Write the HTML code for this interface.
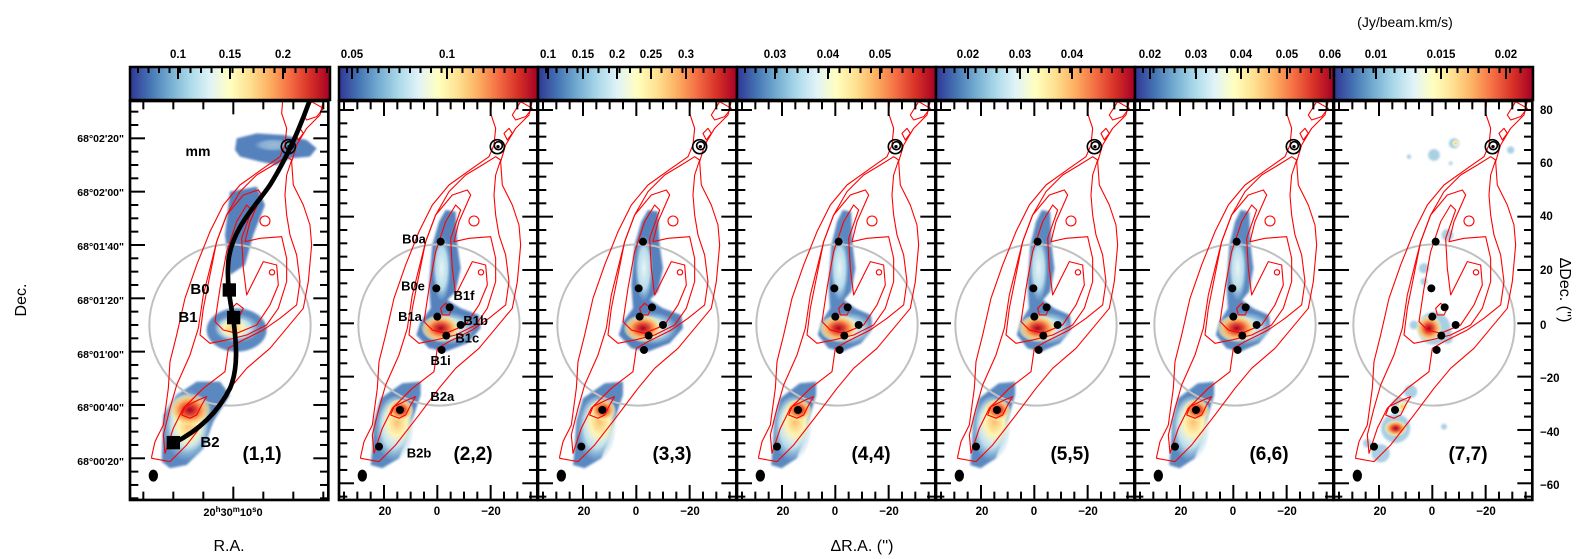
<!DOCTYPE html>
<html><head><meta charset="utf-8">
<style>
html,body{margin:0;padding:0;background:#fff;}
svg{display:block;font-family:"Liberation Sans",sans-serif;}
</style></head>
<body>
<svg id="s" width="1580" height="559" viewBox="0 0 1580 559" xmlns="http://www.w3.org/2000/svg">
<defs>
<linearGradient id="cm" x1="0" x2="1" y1="0" y2="0">
<stop offset="0" stop-color="#313695"/><stop offset="0.1" stop-color="#4575b4"/>
<stop offset="0.2" stop-color="#74add1"/><stop offset="0.3" stop-color="#abd9e9"/>
<stop offset="0.4" stop-color="#e0f3f8"/><stop offset="0.5" stop-color="#ffffbf"/>
<stop offset="0.6" stop-color="#fee090"/><stop offset="0.7" stop-color="#fdae61"/>
<stop offset="0.8" stop-color="#f46d43"/><stop offset="0.9" stop-color="#d73027"/>
<stop offset="1" stop-color="#a50026"/>
</linearGradient>
<radialGradient id="hot"><stop offset="0" stop-color="#a50026"/><stop offset="0.3" stop-color="#e0452f"/><stop offset="0.6" stop-color="#fdae61"/><stop offset="0.85" stop-color="#fee8a0" stop-opacity="0.6"/><stop offset="1" stop-color="#ffffbf" stop-opacity="0"/></radialGradient>
<radialGradient id="warm"><stop offset="0" stop-color="#fdc070"/><stop offset="0.5" stop-color="#fff3b0"/><stop offset="1" stop-color="#e0f3f8" stop-opacity="0"/></radialGradient>
<radialGradient id="light"><stop offset="0" stop-color="#e6f4f6"/><stop offset="0.6" stop-color="#b9dcea"/><stop offset="1" stop-color="#9cc8e0" stop-opacity="0"/></radialGradient>
<filter id="bl" x="-20%" y="-20%" width="140%" height="140%"><feGaussianBlur stdDeviation="3"/></filter>
</defs>
<g id="root"></g>
</svg>
<script>
(function(){
var out=[];
function P(a){return a.map(function(p){return p[0]+','+p[1];}).join(' ');}
var C1=[[65,1085],[75,1040],[100,990],[115,880],[120,800],[140,720],[165,610],[200,510],[240,410],[280,330],[330,270],[400,220],[450,185],[465,150],[470,100],[455,55],[458,18],[580,18],[570,60],[530,100],[500,150],[485,200],[490,270],[520,330],[540,390],[545,450],[535,560],[520,640],[470,700],[420,760],[350,820],[300,880],[240,960],[170,1050],[120,1100],[65,1090]];
var C2=[[105,1075],[130,1000],[160,940],[220,880],[285,830],[295,760],[330,740],[400,705],[450,670],[500,630],[510,560],[500,480],[480,420],[470,360],[465,300],[470,240],[485,195],[470,185],[430,210],[380,240],[330,290],[290,360],[260,440],[240,520],[220,600],[205,700],[180,780],[140,870],[120,940],[100,1020]];
var C3=[[210,720],[220,640],[240,540],[260,440],[290,360],[340,300],[385,285],[395,300],[360,380],[345,440],[390,430],[455,425],[470,490],[470,560],[445,640],[410,690],[350,720],[290,735],[240,745]];
var C4=[[255,680],[270,580],[290,470],[320,380],[350,330],[365,345],[335,430],[340,520],[350,600],[400,500],[440,510],[445,570],[420,630],[380,690],[320,715],[280,705]];
var C5=[[545,20],[520,60],[530,75],[560,65],[580,40]];
var CB2=[[155,960],[165,935],[205,915],[230,905],[215,930],[200,960],[180,970]];
var CB1=[[305,640],[320,625],[340,640],[330,660],[310,660]];
function contours(){
 var s='<g fill="none" stroke="#f00" stroke-width="3.3" stroke-linejoin="round">';
 [C1,C2,C3,C4,C5,CB2,CB1].forEach(function(c){s+='<polygon points="'+P(c)+'"/>';});
 s+='<polygon points="495,115 510,100 520,115 505,135"/>';
 s+='<circle cx="405" cy="378" r="15"/><circle cx="426" cy="532" r="8"/>';
 s+='</g>';return s;
}
var B0=[[320,345],[350,350],[355,450],[365,520],[350,590],[325,615],[365,640],[420,660],[425,700],[385,745],[320,770],[270,760],[232,720],[245,680],[275,640],[270,570],[280,450],[300,380]];
var B2=[[100,1060],[105,980],[125,910],[190,865],[245,860],[245,900],[225,960],[205,1020],[180,1090],[130,1120],[95,1110]];
function blobs(k){
 var s='';
 if(k==1){
  s+='<g filter="url(#bl)">';
  s+='<polygon points="320,130 380,115 460,120 530,135 560,160 540,185 480,190 440,210 390,200 330,185 315,165" fill="#5581bd"/>';
  s+='<polygon points="300,290 380,275 405,330 370,420 345,510 300,540 285,420" fill="#5581bd"/>';
  s+='<ellipse cx="320" cy="705" rx="90" ry="65" fill="#5a88c0"/>';
  s+='<polygon points="95,1100 100,960 140,900 200,860 270,860 300,900 250,980 220,1060 170,1110 120,1120" fill="#5a88c0"/>';
  s+='</g>';
  s+='<ellipse cx="430" cy="150" rx="60" ry="20" fill="url(#light)" opacity="0.5"/>';
  s+='<ellipse cx="320" cy="700" rx="70" ry="45" fill="url(#light)"/>';
  s+='<ellipse cx="310" cy="700" rx="55" ry="35" fill="url(#warm)"/>';
  s+='<ellipse cx="170" cy="990" rx="75" ry="110" fill="url(#light)"/>';
  s+='<ellipse cx="175" cy="990" rx="60" ry="80" fill="url(#warm)"/>';
  s+='<ellipse cx="180" cy="945" rx="65" ry="50" fill="url(#hot)"/>';
  return s;
 }
 if(k==7){
  var pts=[[270,520,14],[300,700,45],[340,420,16],[360,145,14],[300,180,16],[225,185,6],[530,165,10],[195,930,20],[185,1000,40],[140,1075,25],[100,1045,12],[330,995,8],[230,890,18],[350,205,5],[325,710,25],[340,730,15],[270,560,10],[240,690,12]];
  s+='<g filter="url(#bl)">';
  pts.forEach(function(p){s+='<circle cx="'+p[0]+'" cy="'+p[1]+'" r="'+(p[2]*1.1)+'" fill="#a9cfe3"/>';});
  s+='</g>';
  s+='<ellipse cx="285" cy="700" rx="40" ry="40" fill="url(#hot)"/>';
  s+='<ellipse cx="185" cy="1000" rx="35" ry="25" fill="url(#hot)"/>';
  s+='<ellipse cx="205" cy="935" rx="20" ry="20" fill="url(#warm)"/>';
  s+='<ellipse cx="365" cy="145" rx="12" ry="12" fill="url(#warm)"/>';
  return s;
 }
 var dx=(k==3)?10:0;
 s+='<g transform="translate('+dx+',0)">';
 s+='<g filter="url(#bl)">';
 if(k>=4){
  s+='<polygon points="'+P(B0)+'" fill="#5a88c0" transform="translate(300,550) scale(0.85,1) translate(-300,-550)"/>';
  s+='<polygon points="'+P(B2)+'" fill="#5a88c0" transform="translate(170,990) scale(0.9,1) translate(-170,-990)"/>';
 } else {
  s+='<polygon points="'+P(B0)+'" fill="#5582bd"/>';
  s+='<polygon points="'+P(B2)+'" fill="#5a88c0"/>';
 }
 s+='</g>';
 s+='<ellipse cx="308" cy="520" rx="28" ry="100" fill="url(#light)"/>';
 s+='<ellipse cx="330" cy="700" rx="80" ry="50" fill="url(#light)"/>';
 s+='<ellipse cx="305" cy="700" rx="60" ry="42" fill="url(#hot)"/>';
 s+='<ellipse cx="165" cy="1000" rx="60" ry="100" fill="url(#light)"/>';
 s+='<ellipse cx="175" cy="980" rx="55" ry="80" fill="url(#warm)"/>';
 s+='<ellipse cx="185" cy="945" rx="40" ry="34" fill="url(#hot)"/>';
 s+='</g>';
 return s;
}
function star(x,y,r){return '<circle cx="'+x+'" cy="'+y+'" r="'+r+'" fill="#000"/>';}
function sources(k){
 var s='';
 var dx=(k==3)?10:0;
 s+='<g fill="none" stroke="#000" stroke-width="5"><circle cx="'+(475+dx)+'" cy="155" r="21"/><circle cx="'+(478+dx)+'" cy="152" r="12"/></g>'+star(477+dx,155,5);
 if(k==1) return s;
 [[305,440],[292,580],[332,637],[295,665],[365,690],[322,722],[308,765],[183,945],[120,1055]].forEach(function(p){s+=star(p[0]+dx,p[1],12);});
 return s;
}
function ticksPanel(k,isFirst){
 var s='<g stroke="#000" stroke-width="6">';
 var W=595,T=18,B=1215;
 if(isFirst){
  for(var x=40;x<W;x+=90){var L=(x==310)?40:25;s+='<line x1="'+x+'" y1="'+T+'" x2="'+x+'" y2="'+(T+L)+'"/><line x1="'+x+'" y1="'+B+'" x2="'+x+'" y2="'+(B-L)+'"/>';}
  for(var y=50;y<B;y+=40){var L=((y-130)%160==0)?45:25;s+='<line x1="0" y1="'+y+'" x2="'+L+'" y2="'+y+'"/><line x1="'+W+'" y1="'+y+'" x2="'+(W-L)+'" y2="'+y+'"/>';}
 } else {
  for(var x=15;x<W;x+=40){var L=((x-295)%160==0)?45:25;s+='<line x1="'+x+'" y1="'+T+'" x2="'+x+'" y2="'+(T+L)+'"/><line x1="'+x+'" y1="'+B+'" x2="'+x+'" y2="'+(B-L)+'"/>';}
  for(var y=45;y<B;y+=40){var L=((y-45)%160==0)?45:25;s+='<line x1="0" y1="'+y+'" x2="'+L+'" y2="'+y+'"/><line x1="'+W+'" y1="'+y+'" x2="'+(W-L)+'" y2="'+y+'"/>';}
 }
 s+='</g>';
 s+='<rect x="0" y="'+T+'" width="'+W+'" height="'+(B-T)+'" fill="none" stroke="#000" stroke-width="8"/>';
 return s;
}
var lefts=[130,339,538,737,936,1135,1334];
var cbl=[
 [[178,'0.1'],[230,'0.15'],[283,'0.2']],
 [[352,'0.05'],[447,'0.1']],
 [[548,'0.1'],[583,'0.15'],[617,'0.2'],[651,'0.25'],[686,'0.3']],
 [[775,'0.03'],[828,'0.04'],[880,'0.05']],
 [[968,'0.02'],[1020,'0.03'],[1072,'0.04']],
 [[1150,'0.02'],[1196,'0.03'],[1241,'0.04'],[1287,'0.05'],[1330,'0.06']],
 [[1376,'0.01'],[1441,'0.015'],[1506,'0.02']]
];
var labels2=[[225,445,'B0a'],[222,587,'B0e'],[375,615,'B1f'],[213,678,'B1a'],[410,690,'B1b'],[385,743,'B1c'],[305,810,'B1i'],[310,918,'B2a'],[240,1087,'B2b']];
for(var i=0;i<7;i++){
 var k=i+1,L=lefts[i],W=(i==0)?200:199;
 out.push('<rect x="'+L+'" y="67" width="'+W+'" height="33" fill="url(#cm)" stroke="#000" stroke-width="2.5"/>');
 var tk='<g stroke="#000" stroke-width="2">';
 for(var x=L+8;x<L+W-2;x+=10.5){tk+='<line x1="'+x+'" y1="67" x2="'+x+'" y2="73"/>';}
 cbl[i].forEach(function(c){tk+='<line x1="'+c[0]+'" y1="67" x2="'+c[0]+'" y2="79"/>';});
 tk+='</g>';out.push(tk);
 cbl[i].forEach(function(c){out.push('<text x="'+c[0]+'" y="58" font-size="11.5" font-weight="bold" text-anchor="middle">'+c[1]+'</text>');});
 var g='<g transform="translate('+L+',95) scale(0.3333)">';
 g+='<svg x="0" y="18" width="595" height="1197" viewBox="0 18 595 1197" overflow="hidden">';
 g+=blobs(k);
 g+='<circle cx="300" cy="690" r="242" fill="none" stroke="#c0c0c0" stroke-width="6"/>';
 g+=contours();
 g+=sources(k);
 if(k==1){
  g+='<path d="M130,1045 C200,1010 260,960 300,880 C330,810 315,720 310,670 C300,620 290,560 295,500 C305,400 380,330 420,270 C470,190 510,100 545,0" fill="none" stroke="#000" stroke-width="14"/>';
  g+='<rect x="278" y="565" width="40" height="40" fill="#000"/><rect x="291" y="648" width="40" height="40" fill="#000"/><rect x="110" y="1023" width="40" height="40" fill="#000"/>';
 }
 g+='<ellipse cx="70" cy="1142" rx="14" ry="18" fill="#000"/>';
 g+='</svg>';
 g+=ticksPanel(k,k==1);
 g+='</g>';
 out.push(g);
 var cx=L+(k==1?132:134);
 out.push('<text x="'+cx+'" y="460" font-size="19" font-weight="bold" text-anchor="middle">('+k+','+k+')</text>');
 if(k==2){
  labels2.forEach(function(b){out.push('<text x="'+(L+b[0]/3)+'" y="'+(95+b[1]/3)+'" font-size="13" font-weight="bold" text-anchor="middle">'+b[2]+'</text>');});
 }
 if(k>1){
  [[46,'20'],[98,'0'],[152,'\u221220']].forEach(function(t){out.push('<text x="'+(L+t[0])+'" y="515" font-size="11.5" font-weight="bold" text-anchor="middle">'+t[1]+'</text>');});
 }
}
out.push('<text x="198" y="156" font-size="14" font-weight="bold" text-anchor="middle">mm</text>');
out.push('<text x="200" y="294" font-size="15" font-weight="bold" text-anchor="middle">B0</text>');
out.push('<text x="188" y="322" font-size="15" font-weight="bold" text-anchor="middle">B1</text>');
out.push('<text x="210" y="447" font-size="15" font-weight="bold" text-anchor="middle">B2</text>');
var decs=[[138,'68\u00b002\'20"'],[192,'68\u00b002\'00"'],[246,'68\u00b001\'40"'],[300,'68\u00b001\'20"'],[354,'68\u00b001\'00"'],[407,'68\u00b000\'40"'],[461,'68\u00b000\'20"']];
decs.forEach(function(d){out.push('<text x="124" y="'+(d[0]+4)+'" font-size="10.5" font-weight="bold" text-anchor="end">'+d[1]+'</text>');});
out.push('<text x="233" y="516" font-size="11" font-weight="bold" text-anchor="middle">20<tspan dy="-4" font-size="8">h</tspan><tspan dy="4">30</tspan><tspan dy="-4" font-size="8">m</tspan><tspan dy="4">10</tspan><tspan dy="-4" font-size="8">s</tspan><tspan dy="4">0</tspan></text>');
out.push('<text x="229" y="551" font-size="16" text-anchor="middle">R.A.</text>');
out.push('<text transform="translate(26,300) rotate(-90)" font-size="16" text-anchor="middle">Dec.</text>');
out.push('<text x="862" y="551" font-size="16" text-anchor="middle">\u0394R.A.  (\'\')</text>');
out.push('<text x="1405" y="27" font-size="14" text-anchor="middle">(Jy/beam.km/s)</text>');
var rv=[[110,'80'],[163,'60'],[216,'40'],[270,'20'],[325,'0'],[378,'\u221220'],[432,'\u221240'],[485,'\u221260']];
rv.forEach(function(r){out.push('<text x="1540" y="'+(r[0]+4)+'" font-size="11.5" font-weight="bold">'+r[1]+'</text>');});
out.push('<text transform="translate(1560,290) rotate(90)" font-size="16" text-anchor="middle">\u0394Dec.  (\'\')</text>');
document.getElementById('root').innerHTML=out.join('');
})();
</script>
</body></html>
